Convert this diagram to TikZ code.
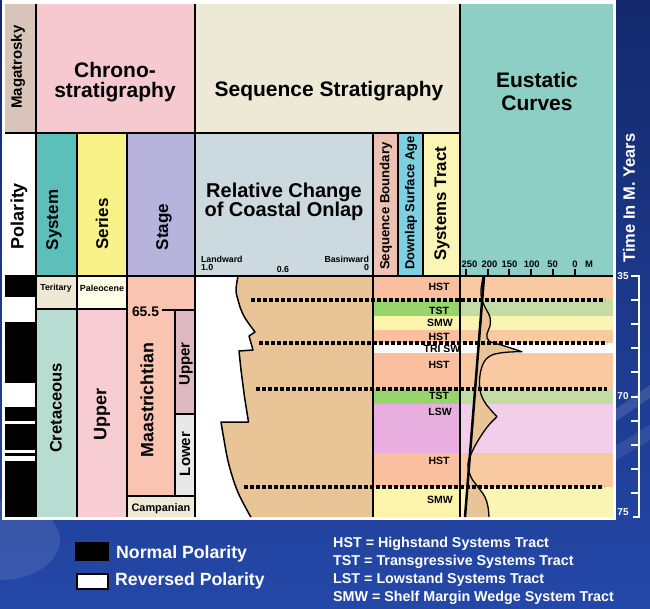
\documentclass[tikz,border=0pt]{standalone}
\usepackage{fontspec}
\setmainfont{Liberation Sans}
\newcommand\myfs[1]{\fontsize{#1}{#1}\selectfont\bfseries}
\definecolor{bgtop}{HTML}{14296C}
\definecolor{bgbot}{HTML}{2448A8}
\definecolor{magc}{HTML}{D9C4B9}
\definecolor{chronoc}{HTML}{F6C9D1}
\definecolor{seqc}{HTML}{EEE8D6}
\definecolor{eusc}{HTML}{8ECFC5}
\definecolor{sysc}{HTML}{5CBFBA}
\definecolor{serc}{HTML}{F8F288}
\definecolor{stgc}{HTML}{B8B3DD}
\definecolor{relc}{HTML}{CCDADF}
\definecolor{sbc}{HTML}{EDC2B3}
\definecolor{dlc}{HTML}{7DCFE2}
\definecolor{stc}{HTML}{FBF6B5}
\definecolor{terc}{HTML}{EEE8D5}
\definecolor{palc}{HTML}{FDFDE8}
\definecolor{cretc}{HTML}{B7DDD2}
\definecolor{upc}{HTML}{F7CCD3}
\definecolor{maac}{HTML}{F9C4B1}
\definecolor{upsc}{HTML}{DEB8C3}
\definecolor{lowc}{HTML}{E8E8E8}
\definecolor{campc}{HTML}{EEEAD6}
\definecolor{hstA}{HTML}{F9BF9E}
\definecolor{hstB}{HTML}{F9C9A2}
\definecolor{tstA}{HTML}{98D46C}
\definecolor{tstB}{HTML}{C4DCA3}
\definecolor{smwA}{HTML}{FBF4AA}
\definecolor{smwB}{HTML}{FAF5B3}
\definecolor{lswA}{HTML}{E8AEE0}
\definecolor{lswB}{HTML}{F2CEEB}
\definecolor{tanc}{HTML}{E8C496}
\tikzset{
  txt/.style={inner sep=0pt, outer sep=0pt, text=black},
  vtxt/.style={txt, rotate=90},
  sepline/.style={line width=1.6pt},
  sbline/.style={line width=3.2pt, dash pattern=on 4pt off 2pt},
  bandlbl/.style={txt, font=\myfs{10.5}},
  axtick/.style={line width=2pt},
  wline/.style={white, line width=2pt},
  legtxt/.style={inner sep=0pt, text=white},
}
\begin{document}
\begin{tikzpicture}[x=1pt,y=-1pt]
\useasboundingbox (0,0) rectangle (650,608);
% background
\shade[top color=bgtop, bottom color=bgbot] (0,0) rectangle (650,608);
\fill[white, opacity=0.10] (0,540) ellipse [x radius=60, y radius=40];
\fill[white, opacity=0.12] (600,420) -- (650,385) -- (650,398) -- (600,432) -- cycle;
\fill[white, opacity=0.08] (600,455) -- (650,425) -- (650,440) -- (600,470) -- cycle;
% white panel
\fill[white] (2,0) rectangle (616,520);
% header fills
\fill[magc] (5,4) rectangle (36,133);
\fill[chronoc] (36,4) rectangle (195,133);
\fill[seqc] (195,4) rectangle (460,133);
\fill[eusc] (460,4) rectangle (613,276);
\fill[sysc] (36,133) rectangle (77,276);
\fill[serc] (77,133) rectangle (127,276);
\fill[stgc] (127,133) rectangle (195,276);
\fill[relc] (195,133) rectangle (373,276);
\fill[sbc] (373,133) rectangle (398,276);
\fill[dlc] (398,133) rectangle (423,276);
\fill[stc] (423,133) rectangle (460,276);
% polarity stripes
\foreach \ya/\yb in {276/297, 322/383, 407/421, 424/450, 453/456, 461/517}
  \fill[black] (5,\ya) rectangle (36,\yb);
% chronostratigraphy body
\fill[terc] (36,276) rectangle (77,309);
\fill[cretc] (36,309) rectangle (77,517);
\fill[palc] (77,276) rectangle (127,309);
\fill[upc] (77,309) rectangle (127,517);
\fill[maac] (127,276) rectangle (195,496);
\fill[campc] (127,496) rectangle (195,517);
\fill[upsc] (175,310) rectangle (195,414);
\fill[lowc] (175,414) rectangle (195,496);
% systems tract bands
\foreach \ya/\yb/\ca/\cb in {276/300/hstA/hstB, 300/316/tstA/tstB, 316/330/smwA/smwB, 330/343/hstA/hstB, 343/353/white/white, 353/389/hstA/hstB, 389/404/tstA/tstB, 404/453/lswA/lswB, 453/487/hstA/hstB, 487/517/smwA/smwB}
  {\fill[\ca] (373,\ya) rectangle (460,\yb);
   \fill[\cb] (460,\ya) rectangle (613,\yb);}
% coastal onlap
\fill[tanc] plot[smooth, tension=0.6] coordinates {(238,276) (236,290) (238,300) (240,307) (245,318) (255,332)}
  -- (249,336) -- (253,350) -- (239,351) -- (241,370) -- (244.5,397) -- (248.5,422) -- (221,422)
  -- plot[smooth, tension=0.6] coordinates {(221,422) (223.5,437) (228.5,463) (237,490) (248,512) (251,517)}
  -- (373,517) -- (373,276) -- cycle;
\draw[line width=1.5pt, line join=round] plot[smooth, tension=0.6] coordinates {(238,276) (236,290) (238,300) (240,307) (245,318) (255,332)}
  -- (249,336) -- (253,350) -- (239,351) -- (241,370) -- (244.5,397) -- (248.5,422) -- (221,422)
  -- plot[smooth, tension=0.6] coordinates {(221,422) (223.5,437) (228.5,463) (237,490) (248,512) (251,517)};
% eustatic curve
\fill[tanc] plot[smooth, tension=0.6] coordinates {(483,277) (481,290) (482,300) (486,309) (490,317) (490,326) (487,334) (489,341) (503,345.5) (522,351.7)}
  -- plot[smooth, tension=0.6] coordinates {(522,351.7) (506,352.3) (492,355) (484,362) (480,375) (480,390) (484,401) (490,409) (497,416.7)}
  -- plot[smooth, tension=0.6] coordinates {(497,416.7) (488,426) (479,439) (472,452) (468,464) (471,477) (478,487) (485,497) (488,507) (489,517)}
  -- (465,517) -- (484,277) -- cycle;
\draw[line width=1.3pt, line join=round] plot[smooth, tension=0.6] coordinates {(483,277) (481,290) (482,300) (486,309) (490,317) (490,326) (487,334) (489,341) (503,345.5) (522,351.7)}
  -- plot[smooth, tension=0.6] coordinates {(522,351.7) (506,352.3) (492,355) (484,362) (480,375) (480,390) (484,401) (490,409) (497,416.7)}
  -- plot[smooth, tension=0.6] coordinates {(497,416.7) (488,426) (479,439) (472,452) (468,464) (471,477) (478,487) (485,497) (488,507) (489,517)};
\draw[line width=2.5pt] (484,277) -- (465,517);
% grid lines
\draw[sepline] (36,4) -- (36,517);
\draw[sepline] (77,133) -- (77,517);
\draw[sepline] (127,133) -- (127,517);
\draw[sepline] (195,4) -- (195,517);
\draw[sepline] (373,133) -- (373,517);
\draw[sepline] (398,133) -- (398,276);
\draw[sepline] (423,133) -- (423,276);
\draw[sepline] (460,4) -- (460,517);
\draw[sepline] (5,133) -- (460,133);
\draw[sepline] (5,276) -- (613,276);
\draw[sepline] (36,309) -- (127,309);
\draw[sepline] (127,496) -- (195,496);
\draw[sepline] (175,310) -- (175,496);
\draw[sepline] (175,414) -- (195,414);
\draw[sepline] (162,310) -- (195,310);
% sequence boundaries
\draw[sbline] (251,300) -- (605,300);
\draw[sbline] (259,343) -- (607,343);
\draw[sbline] (256,389) -- (607,389);
\draw[sbline] (244,487) -- (604,487);
% axis ticks
\foreach \tx in {466,487.7,509.4,531.1,552.8,574.5}
  \draw[axtick] (\tx,269) -- (\tx,276);
\node[txt, anchor=base, font=\myfs{9.4}] (a250) at (469.5,267) {250};
\node[txt, anchor=base, font=\myfs{9.4}] (a200) at (489.5,267) {200};
\node[txt, anchor=base, font=\myfs{9.4}] (a150) at (509.5,267) {150};
\node[txt, anchor=base, font=\myfs{9.4}] (a100) at (531.7,267) {100};
\node[txt, anchor=base, font=\myfs{9.4}] (a50) at (552.5,267) {50};
\node[txt, anchor=base, font=\myfs{9.4}] (a0) at (575,267) {0};
\node[txt, anchor=base, font=\myfs{9.4}] (aM) at (589,267) {M};
% header texts
\node[vtxt, font=\myfs{15}] (mag) at (18,67) {Magatrosky};
\node[txt, anchor=base, font=\myfs{21}] (chr1) at (115,77) {Chrono-};
\node[txt, anchor=base, font=\myfs{21}] (chr2) at (115,97) {stratigraphy};
\node[txt, anchor=base, font=\myfs{21}] (seqs) at (329,96) {Sequence Stratigraphy};
\node[txt, anchor=base, font=\myfs{21}] (eus1) at (537,87) {Eustatic};
\node[txt, anchor=base, font=\myfs{21}] (eus2) at (537,110) {Curves};
\node[txt, anchor=base, font=\myfs{20}] (rel1) at (284,197) {Relative Change};
\node[txt, anchor=base, font=\myfs{20}] (rel2) at (284,216) {of Coastal Onlap};
\node[txt, anchor=base west, font=\myfs{8.8}] (landw) at (201,262) {Landward};
\node[txt, anchor=base west, font=\myfs{8.8}] (one) at (201,270.7) {1.0};
\node[txt, anchor=base, font=\myfs{8.8}] (sixt) at (283,272.7) {0.6};
\node[txt, anchor=base east, font=\myfs{8.8}] (basw) at (369,262) {Basinward};
\node[txt, anchor=base east, font=\myfs{8.8}] (zero) at (369,270.7) {0};
\node[vtxt, font=\myfs{18}] (pol) at (19,216) {Polarity};
\node[vtxt, font=\myfs{17}] (sys) at (54,220) {System};
\node[vtxt, font=\myfs{17}] (ser) at (102,224) {Series};
\node[vtxt, font=\myfs{17}] (stg) at (164,227) {Stage};
\node[vtxt, font=\myfs{13.2}] (sbnd) at (386,206) {Sequence Boundary};
\node[vtxt, font=\myfs{13}] (dlap) at (411,203) {Downlap Surface Age};
\node[vtxt, font=\myfs{16.8}] (stract) at (442,204) {Systems Tract};
% body texts
\node[txt, font=\myfs{8.7}] (ter) at (56,288) {Teritary};
\node[txt, font=\myfs{8.9}] (pal) at (102,288) {Paleocene};
\node[vtxt, font=\myfs{16.5}] (cret) at (56,408) {Cretaceous};
\node[vtxt, font=\myfs{18}] (upser) at (102,414) {Upper};
\node[vtxt, font=\myfs{17.8}] (maa) at (147,400) {Maastrichtian};
\node[vtxt, font=\myfs{15}] (upsub) at (186,364) {Upper};
\node[vtxt, font=\myfs{15}] (lowsub) at (185,454) {Lower};
\node[txt, font=\myfs{10.9}] (camp) at (161,509) {Campanian};
\node[txt, anchor=base west, font=\myfs{13.9}] (age) at (132,316) {65.5};
% systems tract labels
\node[bandlbl] (b1) at (439,287) {HST};
\node[bandlbl] (b2) at (439,311) {TST};
\node[bandlbl] (b3) at (440,323) {SMW};
\node[bandlbl] (b4) at (439,337) {HST};
\node[bandlbl] (b5) at (442,349) {TRI SW};
\node[bandlbl] (b6) at (439,365) {HST};
\node[bandlbl] (b7) at (439,396) {TST};
\node[bandlbl] (b8) at (440,412) {LSW};
\node[bandlbl] (b9) at (439,461) {HST};
\node[bandlbl] (b10) at (440,500) {SMW};
% time scale
\draw[wline] (631,276) -- (639,276) -- (639,517) -- (633,517);
\foreach \k in {1,...,9}
  \draw[wline] (631,276+24.1*\k) -- (639,276+24.1*\k);
\node[legtxt, font=\myfs{10}] (t35) at (623,276) {35};
\node[legtxt, font=\myfs{10}] (t70) at (623,396) {70};
\node[legtxt, font=\myfs{10}] (t75) at (623,512) {75};
\node[legtxt, rotate=90, font=\myfs{16.5}] (tim) at (629,198) {Time In M. Years};
% legend
\fill[black] (75,542) rectangle (109,561);
\filldraw[fill=white, draw=black, line width=2pt] (77,574) rectangle (108,589);
\node[legtxt, anchor=base west, font=\myfs{17.7}] (np) at (116,558) {Normal Polarity};
\node[legtxt, anchor=base west, font=\myfs{17.7}] (rp) at (115,585) {Reversed Polarity};
\node[legtxt, anchor=base west, font=\myfs{14.3}] (l1) at (333,547) {HST = Highstand Systems Tract};
\node[legtxt, anchor=base west, font=\myfs{14.3}] (l2) at (333,565) {TST = Transgressive Systems Tract};
\node[legtxt, anchor=base west, font=\myfs{14.3}] (l3) at (333,583) {LST = Lowstand Systems Tract};
\node[legtxt, anchor=base west, font=\myfs{14.3}] (l4) at (333,601) {SMW = Shelf Margin Wedge System Tract};
\end{tikzpicture}
\end{document}
